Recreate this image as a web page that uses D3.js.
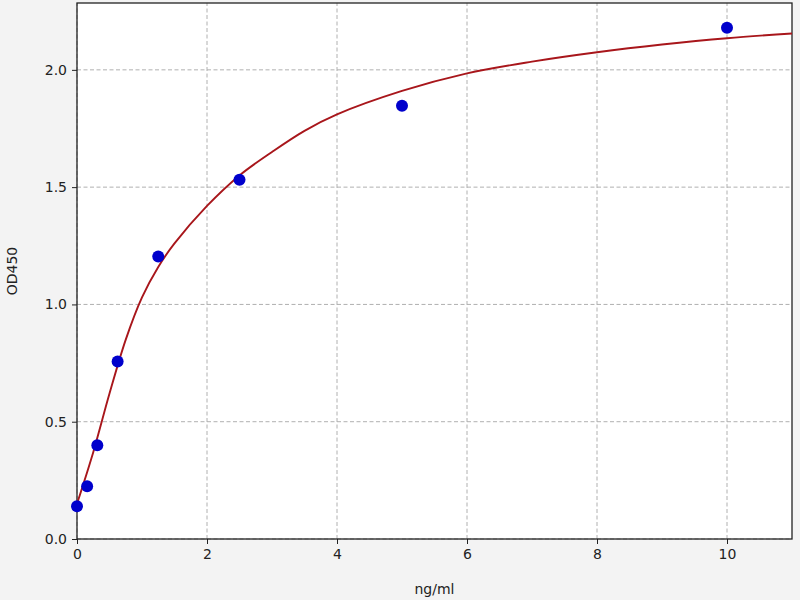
<!DOCTYPE html>
<html>
<head>
<meta charset="utf-8">
<script src="https://cdn.jsdelivr.net/npm/d3@7"></script>
<style>
  html, body { margin: 0; padding: 0; background: #f3f3f3; }
  svg { display: block; }
  text { font-family: "DejaVu Sans", sans-serif; fill: #222; }
</style>
</head>
<body>
<svg id="chart" width="800" height="600"></svg>
<script>
// standard points
const conc = [0, 0.156, 0.3125, 0.625, 1.25, 2.5, 5, 10]
const od = [0.14, 0.225, 0.40, 0.757, 1.204, 1.532, 1.847, 2.179]

// fitted curve
const curveX = [0, 0.25, 0.5, 0.75, 1, 1.25, 1.5, 2, 2.5, 3, 3.5, 4, 5, 6, 7, 8, 9, 10, 11]
const curveY = [0.15, 0.37, 0.62, 0.85, 1.03, 1.16, 1.26, 1.42, 1.55, 1.65, 1.74, 1.81, 1.91, 1.985, 2.035, 2.075, 2.108, 2.135, 2.155]

const xTicks = [0, 2, 4, 6, 8, 10]
const yTicks = [0, 0.5, 1.0, 1.5, 2.0]

const margin = { top: 3, right: 8, bottom: 61, left: 77 }
const width = 800, height = 600

const svg = d3.select('#chart')

const x = d3.scaleLinear().domain([0, 11]).range([margin.left, width - margin.right])
const y = d3.scaleLinear().domain([0, 2.285]).range([height - margin.bottom, margin.top])

// plot background
svg.append('rect')
    .attr('x', x(0)).attr('y', y(2.285))
    .attr('width', x(11) - x(0)).attr('height', y(0) - y(2.285))
    .attr('fill', '#fff')

// grid
svg.append('g')
    .selectAll('line')
    .data(xTicks)
    .join('line')
    .attr('x1', d => x(d)).attr('x2', d => x(d))
    .attr('y1', y(0)).attr('y2', y(2.285))
    .attr('stroke', '#b0b0b0').attr('stroke-width', 1)
    .attr('stroke-dasharray', '4,2.5')

svg.append('g')
    .selectAll('line')
    .data(yTicks)
    .join('line')
    .attr('x1', x(0)).attr('x2', x(11))
    .attr('y1', d => y(d)).attr('y2', d => y(d))
    .attr('stroke', '#b0b0b0').attr('stroke-width', 1)
    .attr('stroke-dasharray', '4,2.5')

// axes
const xAxis = svg.append('g')
    .attr('transform', `translate(0,${y(0)})`)
    .call(d3.axisBottom(x).tickValues(xTicks).tickFormat(d3.format('d')).tickSize(5).tickPadding(5))
const yAxis = svg.append('g')
    .attr('transform', `translate(${x(0)},0)`)
    .call(d3.axisLeft(y).tickValues(yTicks).tickFormat(d3.format('.1f')).tickSize(5).tickPadding(5))

for (const ax of [xAxis, yAxis]) {
    ax.select('.domain').remove()
    ax.selectAll('.tick line').attr('stroke', '#222').attr('stroke-width', 1)
    ax.selectAll('.tick text')
        .style('font-family', '"DejaVu Sans", sans-serif')
        .style('font-size', '14px')
        .attr('fill', '#222')
}

// frame
svg.append('rect')
    .attr('x', x(0)).attr('y', y(2.285))
    .attr('width', x(11) - x(0)).attr('height', y(0) - y(2.285))
    .attr('fill', 'none')
    .attr('stroke', '#222').attr('stroke-width', 1.3)

// fitted curve
const line = d3.line()
    .x(d => x(d[0]))
    .y(d => y(d[1]))
    .curve(d3.curveCatmullRom.alpha(0.5))

svg.append('path')
    .datum(d3.zip(curveX, curveY))
    .attr('d', line)
    .attr('fill', 'none')
    .attr('stroke', '#a8161b')
    .attr('stroke-width', 1.9)

// points
svg.append('g')
    .selectAll('circle')
    .data(d3.zip(conc, od))
    .join('circle')
    .attr('cx', d => x(d[0]))
    .attr('cy', d => y(d[1]))
    .attr('r', 6)
    .attr('fill', '#0000cc')

// labels
svg.append('text')
    .attr('x', (x(0) + x(11)) / 2)
    .attr('y', 594)
    .attr('text-anchor', 'middle')
    .style('font-size', '14px')
    .text('ng/ml')

svg.append('text')
    .attr('transform', `translate(17,${(y(0) + y(2.285)) / 2}) rotate(-90)`)
    .attr('text-anchor', 'middle')
    .style('font-size', '14px')
    .text('OD450')
</script>
</body>
</html>
